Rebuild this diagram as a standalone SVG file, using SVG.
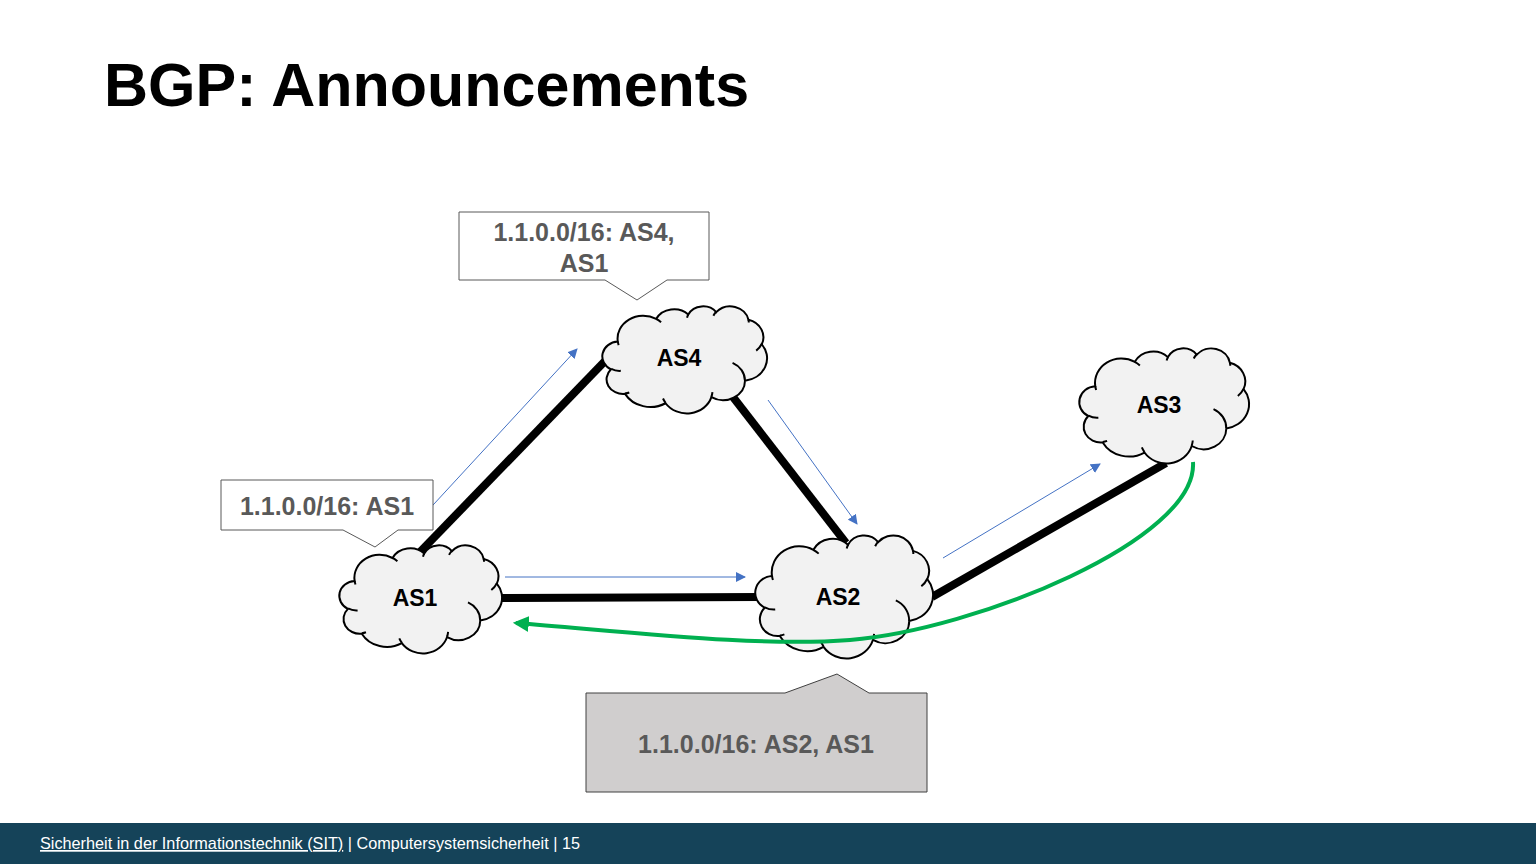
<svg xmlns="http://www.w3.org/2000/svg" xmlns:xlink="http://www.w3.org/1999/xlink" width="1536" height="864" viewBox="0 0 1536 864">
<style>
.cloud{fill:#f2f2f2;stroke:#000;stroke-width:2}
.crease{fill:none;stroke:#000;stroke-width:2}
.lbl{font-family:"Liberation Sans",Arial,sans-serif;font-weight:bold;font-size:23px;fill:#000;text-anchor:middle}
.co{font-family:"Liberation Sans",Arial,sans-serif;font-weight:bold;font-size:25px;fill:#595959;text-anchor:middle}
.link{stroke:#000;stroke-width:8;fill:none}
.ann{stroke:#4472c4;stroke-width:1;fill:none}
.callout{fill:#fff;stroke:#595959;stroke-width:1}
</style>
<defs>
<marker id="blue" viewBox="0 0 10 10" refX="9" refY="5" markerWidth="10" markerHeight="10" markerUnits="userSpaceOnUse" orient="auto">
<path d="M0,0 L10,5 L0,10 z" fill="#4472c4"/>
</marker>
<marker id="green" viewBox="0 0 10 10" refX="8" refY="5" markerWidth="16" markerHeight="16" markerUnits="userSpaceOnUse" orient="auto">
<path d="M0,0 L10,5 L0,10 z" fill="#00b050"/>
</marker>
<symbol id="cloudshape" viewBox="0 0 43200 43200" preserveAspectRatio="none" overflow="visible">
<path class="cloud" vector-effect="non-scaling-stroke" d="M 3900 14370 A 6753 9190 0 0 1 14006 5201 A 5333 7267 0 0 1 22457 3432 A 4365 5945 0 0 1 29834 2480 A 4857 6595 0 0 1 38319 5574 A 5333 7273 0 0 1 41819 15458 A 6775 9220 0 0 1 37405 30202 A 5785 7867 0 0 1 28556 36813 A 6752 9215 0 0 1 16481 39266 A 7720 10543 0 0 1 5804 35472 A 4360 5918 0 0 1 2114 25549 A 4345 5945 0 0 1 3900 14370 Z"/>
<path class="crease" vector-effect="non-scaling-stroke" d="M 4693 26177 A 4345 5945 0 0 1 2159 25379 M 6928 34899 A 4360 5918 0 0 1 5820 35281 M 16478 39090 A 6752 9215 0 0 1 15810 37349 M 28827 34751 A 6752 9215 0 0 1 28560 36661 M 34129 22954 A 5785 7867 0 0 1 37380 30089 M 41798 15354 A 5333 7273 0 0 1 40351 18030 M 38324 5426 A 4857 6595 0 0 1 38401 6690 M 29078 3952 A 4857 6595 0 0 1 29820 2340 M 22141 4720 A 4365 5945 0 0 1 22500 3331 M 14000 5192 A 6753 9190 0 0 1 15301 6542 M 4127 15789 A 6753 9190 0 0 1 3900 14371"/>
</symbol>
</defs>

<rect width="1536" height="864" fill="#fff"/>

<text x="104" y="106" font-family="'Liberation Sans',Arial,sans-serif" font-weight="bold" font-size="61" fill="#000">BGP: Announcements</text>

<g id="links">
<line class="link" x1="420" y1="552" x2="606" y2="360"/>
<line class="link" x1="733" y1="397" x2="846" y2="543"/>
<line class="link" x1="500" y1="598" x2="760" y2="597"/>
<line class="link" x1="932" y1="597" x2="1166" y2="463"/>
</g>

<g id="AS1">
<use xlink:href="#cloudshape" x="340" y="545" width="162" height="108"/>
<text class="lbl" x="415" y="606">AS1</text>
</g>
<g id="AS4">
<use xlink:href="#cloudshape" x="603" y="306" width="164" height="107"/>
<text class="lbl" x="679" y="366">AS4</text>
</g>
<g id="AS3">
<use xlink:href="#cloudshape" x="1080" y="348" width="169" height="115"/>
<text class="lbl" x="1159" y="413">AS3</text>
</g>
<g id="AS2">
<use xlink:href="#cloudshape" x="756" y="535" width="177" height="123"/>
<text class="lbl" x="838" y="605">AS2</text>
</g>

<g id="connectors">
<line class="ann" x1="410" y1="530" x2="577" y2="349" marker-end="url(#blue)"/>
<line class="ann" x1="768" y1="400" x2="857" y2="524" marker-end="url(#blue)"/>
<line class="ann" x1="505" y1="577" x2="745" y2="577" marker-end="url(#blue)"/>
<line class="ann" x1="943" y1="558" x2="1100" y2="464" marker-end="url(#blue)"/>
<path d="M 1193 462 C 1198 540 975 630 850 640 C 760 647 640 633 516 623" stroke="#00b050" stroke-width="4" fill="none" marker-end="url(#green)"/>
</g>

<g id="callout-AS4">
<path class="callout" d="M 459 212 L 709 212 L 709 280 L 667 280 L 637 300 L 605 280 L 459 280 Z"/>
<text class="co" x="584" y="241">1.1.0.0/16: AS4,</text>
<text class="co" x="584" y="272">AS1</text>
</g>
<g id="callout-AS1">
<path class="callout" d="M 221 480 L 433 480 L 433 530 L 398 530 L 375 547 L 343 530 L 221 530 Z"/>
<text class="co" x="327" y="515">1.1.0.0/16: AS1</text>
</g>
<g id="callout-AS2">
<path d="M 586 693 L 785 693 L 837 674 L 869 693 L 927 693 L 927 792 L 586 792 Z" fill="#d0cece" stroke="#404040" stroke-width="1"/>
<text class="co" x="756" y="753">1.1.0.0/16: AS2, AS1</text>
</g>

<g id="footer">
<rect x="0" y="823" width="1536" height="41" fill="#154359"/>
<text x="40" y="849" font-family="'Liberation Sans',Arial,sans-serif" font-size="17" fill="#fff" textLength="540" lengthAdjust="spacingAndGlyphs"><tspan text-decoration="underline">Sicherheit in der Informationstechnik (SIT)</tspan> | Computersystemsicherheit | 15</text>
</g>
</svg>
